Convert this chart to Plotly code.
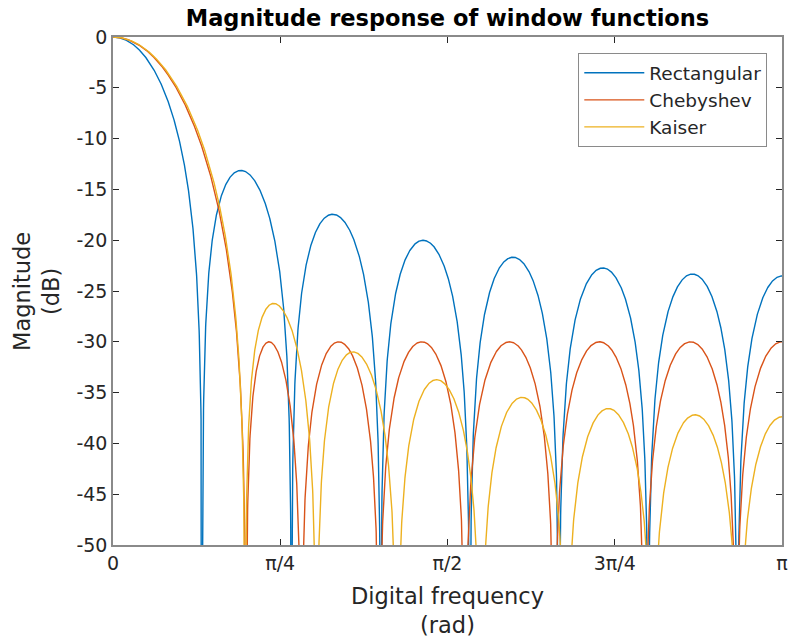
import numpy as np
import plotly.graph_objects as go

# Window coefficients (length 15)
rect_win = [1.0] * 15
cheb_win = [0.281302, 0.326266, 0.474929, 0.630153, 0.775678, 0.894747, 0.972813, 1.000000,
            0.972813, 0.894747, 0.775678, 0.630153, 0.474929, 0.326266, 0.281302]
kais_win = [0.196735, 0.338179, 0.493327, 0.648708, 0.789683, 0.902264, 0.974903, 1.000000,
            0.974903, 0.902264, 0.789683, 0.648708, 0.493327, 0.338179, 0.196735]

names = ["Rectangular", "Chebyshev", "Kaiser"]
colors = ["#0072BD", "#D95319", "#EDB120"]
x_tickvals = [0, np.pi / 4, np.pi / 2, 3 * np.pi / 4, np.pi]
x_ticktext = ["0", "π/4", "π/2", "3π/4", "π"]
y_tickvals = [0, -5, -10, -15, -20, -25, -30, -35, -40, -45, -50]
y_ticktext = ["0", "-5", "-10", "-15", "-20", "-25", "-30", "-35", "-40", "-45", "-50"]

w = np.linspace(0, np.pi, 4096)

def resp(win):
    win = np.asarray(win)
    H = np.abs(np.exp(-1j * np.outer(w, np.arange(len(win)))) @ win)
    return 20 * np.log10(np.maximum(H / H.max(), 1e-8))

fig = go.Figure()
for win, name, col in zip([rect_win, cheb_win, kais_win], names, colors):
    fig.add_trace(go.Scatter(x=w, y=resp(win), mode="lines", name=name,
                             line=dict(color=col, width=1.4)))

axcol = "#8a8a8a"
fig.update_layout(
    width=791, height=643,
    margin=dict(l=113, r=9, t=37, b=98, autoexpand=False),
    plot_bgcolor="white", paper_bgcolor="white",
    font=dict(family="DejaVu Sans", size=19, color="#262626"),
    title=dict(text="<b>Magnitude response of window functions</b>", xref="paper", x=0.5,
               xanchor="center", y=0.972, yanchor="middle", font=dict(size=22.5, color="black")),
    showlegend=True,
    legend=dict(x=0.6955, y=0.968, xanchor="left", yanchor="top", bgcolor="white",
                bordercolor=axcol, borderwidth=1, font=dict(size=18.5, color="#262626"),
                tracegroupgap=0, itemwidth=60),
)
fig.update_xaxes(range=[0, np.pi], tickvals=x_tickvals, ticktext=x_ticktext, automargin=False,
                 ticks="inside", ticklen=6, tickcolor="#262626", showline=True, linecolor=axcol,
                 linewidth=1.5, mirror="ticks", showgrid=False, zeroline=False,
                 tickfont=dict(size=19))
fig.update_yaxes(range=[-50, 0], tickvals=y_tickvals, ticktext=y_ticktext, automargin=False,
                 ticks="inside", ticklen=6,
                 tickcolor="#262626", showline=True, linecolor=axcol, linewidth=1.5,
                 mirror="ticks", showgrid=False, zeroline=False,
                 tickfont=dict(size=19))
fig.add_annotation(text="Digital frequency<br>(rad)", xref="paper", yref="paper",
                   x=0.5, y=-0.128, xanchor="center", yanchor="middle", showarrow=False,
                   font=dict(size=22.5, color="#262626"))
fig.add_annotation(text="Magnitude<br>(dB)", xref="paper", yref="paper", textangle=-90,
                   x=-0.1151, y=0.5, xanchor="center", yanchor="middle", showarrow=False,
                   font=dict(size=22.5, color="#262626"))
fig.write_html("out.html")
